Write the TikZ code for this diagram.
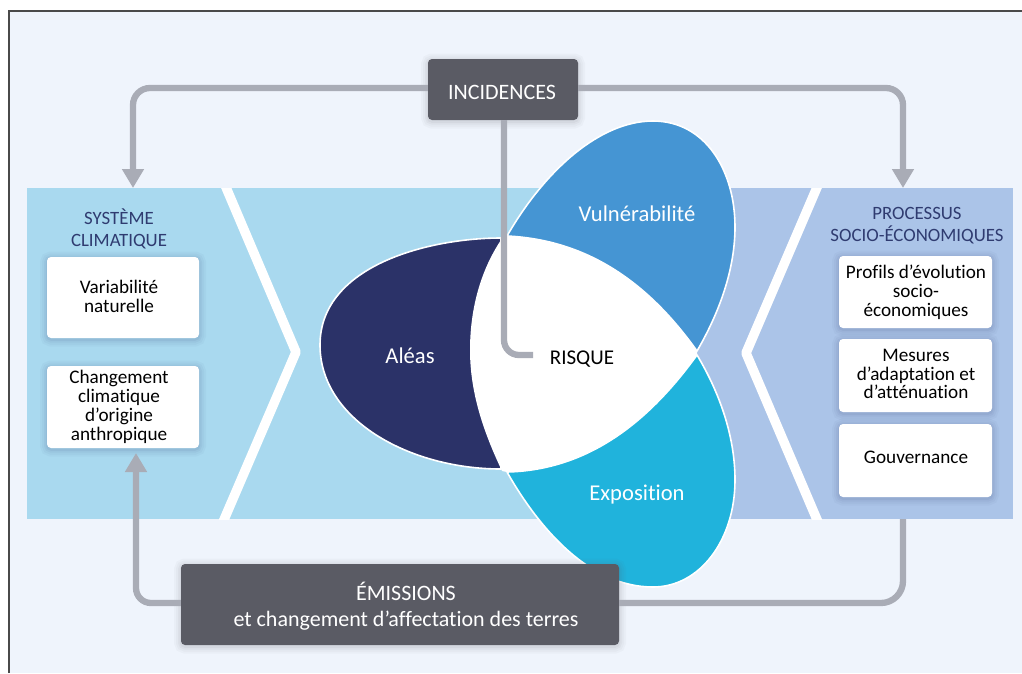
\documentclass[tikz,border=0pt]{standalone}
\usepackage{fontspec}
\setmainfont[Ligatures=NoCommon]{Carlito}
\usetikzlibrary{arrows.meta}
\definecolor{bgc}{HTML}{EFF4FC}
\definecolor{bandL}{HTML}{A9D9EF}
\definecolor{bandR}{HTML}{ABC4E8}
\definecolor{vuln}{HTML}{4595D3}
\definecolor{expo}{HTML}{20B3DC}
\definecolor{alea}{HTML}{2B3268}
\definecolor{grayc}{HTML}{A9ACB6}
\definecolor{darkbox}{HTML}{5A5B64}
\definecolor{headc}{HTML}{2F3B70}
\definecolor{framec}{HTML}{4A4A4A}
\tikzset{
  softshadow/.style={
    preaction={draw=#1,opacity=.035,line width=14pt,transform canvas={yshift=-1.5pt}},
    preaction={draw=#1,opacity=.04,line width=10pt,transform canvas={yshift=-1.5pt}},
    preaction={draw=#1,opacity=.05,line width=6pt,transform canvas={yshift=-1.5pt}},
    preaction={draw=#1,opacity=.06,line width=2.5pt,transform canvas={yshift=-1.5pt}}},
  panel/.style={rectangle,rounded corners=4pt,inner sep=0pt,fill=white,softshadow=headc},
  darkpanel/.style={rectangle,rounded corners=4pt,inner sep=0pt,fill=darkbox,softshadow=darkbox},
  band/.style={rectangle,inner sep=0pt},
  conn/.style={draw=grayc,line width=6.3pt,rounded corners=17pt},
  tip/.style={-{Triangle[width=21pt,length=19pt]}},
  petal/.style={draw=white,line width=1.6pt,line join=round},
  chev/.style={draw=white,line width=9.5pt,line join=round},
  boxtext/.style={font=\fontsize{19.2}{18.8}\selectfont,align=center,text=black,inner sep=0pt},
  headtext/.style={font=\fontsize{18.8}{22.5}\selectfont,align=center,text=headc,inner sep=0pt},
  whitetext/.style={font=\fontsize{22}{26}\selectfont,align=center,text=white,inner sep=0pt},
  bigtext/.style={font=\fontsize{22.6}{24}\selectfont,align=center,text=white,inner sep=0pt},
}
\begin{document}
\begin{tikzpicture}[x=1pt,y=-1pt]
\useasboundingbox (0,0) rectangle (1022,673);
\fill[bgc] (9,11) rectangle (1022,673);
\draw[framec,line width=1.5pt] (9,673) -- (9,11) -- (1022,11);
% bands
\node[band,fill=bandL,minimum width=573pt,minimum height=331pt,anchor=north west] (lband) at (27,188) {};
\node[band,fill=bandR,minimum width=323pt,minimum height=331pt,anchor=north west] (rband) at (690,188) {};
\begin{scope}
\clip (27,188) rectangle (1013,519);
\draw[chev] (225,185) -- (296,352) -- (223,522);
\draw[chev] (818,185) -- (746,353) -- (818,522);
\end{scope}
% petals
\path[fill=alea,petal] (501,238) .. controls (430,238) and (320,265) .. (320,345)
  .. controls (320,420) and (410,469) .. (501,469) -- cycle;
\path[fill=vuln,petal] (507,236) .. controls (545,170) and (600,121) .. (653,121)
  .. controls (705,121) and (735,170) .. (735,227)
  .. controls (735,275) and (715,320) .. (697,351)
  .. controls (650,285) and (590,240) .. (507,236) -- cycle;
\path[fill=expo,petal] (697,355) .. controls (715,385) and (735,430) .. (735,480)
  .. controls (735,540) and (700,587) .. (653,587)
  .. controls (590,587) and (540,530) .. (507,472)
  .. controls (590,470) and (650,420) .. (697,355) -- cycle;
\path[fill=white] (503,237) -- (507,236) .. controls (590,240) and (650,285) .. (697,351)
  -- (697,355) .. controls (650,420) and (590,470) .. (507,472) -- (502,471)
  .. controls (485,435) and (470,395) .. (470,350)
  .. controls (470,310) and (480,270) .. (503,237) -- cycle;
% boxes (geometry)
\node[darkpanel,minimum width=150pt,minimum height=61pt] (inc) at (503,89.5) {};
\node[darkpanel,minimum width=438pt,minimum height=81pt] (emi) at (400,604.5) {};
\node[panel,minimum width=152pt,minimum height=81pt] (b1) at (123,297.5) {};
\node[panel,minimum width=152pt,minimum height=82pt] (b2) at (123,407) {};
\node[panel,minimum width=153pt,minimum height=72pt] (b3) at (915.5,292) {};
\node[panel,minimum width=153pt,minimum height=73pt] (b4) at (915.5,375.5) {};
\node[panel,minimum width=153pt,minimum height=73pt] (b5) at (915.5,460.5) {};
% labels
\node[whitetext] (tinc) at (502,92) {INCIDENCES};
\node[whitetext] (temi) at (406,606) {ÉMISSIONS\\et changement d’affectation des terres};
\node[bigtext] (tvul) at (637,214) {Vulnérabilité};
\node[bigtext] (tale) at (410,355.5) {Aléas};
\node[bigtext] (texp) at (637,495) {Exposition};
\node[boxtext,text=black,font=\fontsize{21}{22}\selectfont] (ris) at (582,359.5) {RISQUE};
\node[headtext] (tsys) at (119,229) {SYSTÈME\\CLIMATIQUE};
\node[headtext] (tpro) at (917,225.5) {PROCESSUS\\SOCIO-ÉCONOMIQUES};
\node[boxtext] (t1) at (119,296.5) {Variabilité\\naturelle};
\node[boxtext] (t2) at (119,407) {Changement\\climatique\\d’origine\\anthropique};
\node[boxtext] (t3) at (916,292.5) {Profils d’évolution\\socio-\\économiques};
\node[boxtext] (t4) at (916,374) {Mesures\\d’adaptation et\\d’atténuation};
\node[boxtext] (t5) at (916,457) {Gouvernance};
% connectors
\coordinate (a1) at (133,188);
\coordinate (a2) at (903,188);
\coordinate (a3) at (136,453);
\coordinate (a4) at (903,519);
\coordinate (a5) at (533,355);
\draw[conn,tip] (inc.west |- 0,88) -- (a1 |- 0,88) -- (a1);
\draw[conn,tip] (inc.east |- 0,88) -- (a2 |- 0,88) -- (a2);
\draw[conn,tip,rounded corners=15pt] (emi.west |- 0,603) -- (a3 |- 0,603) -- (a3);
\draw[conn,rounded corners=22pt] (a4) -- (a4 |- 0,603) -- (emi.east |- 0,603);
\draw[conn,rounded corners=15pt] (inc.south -| 504,0) -- (a5 -| 504,0) -- (a5);
\end{tikzpicture}
\end{document}
